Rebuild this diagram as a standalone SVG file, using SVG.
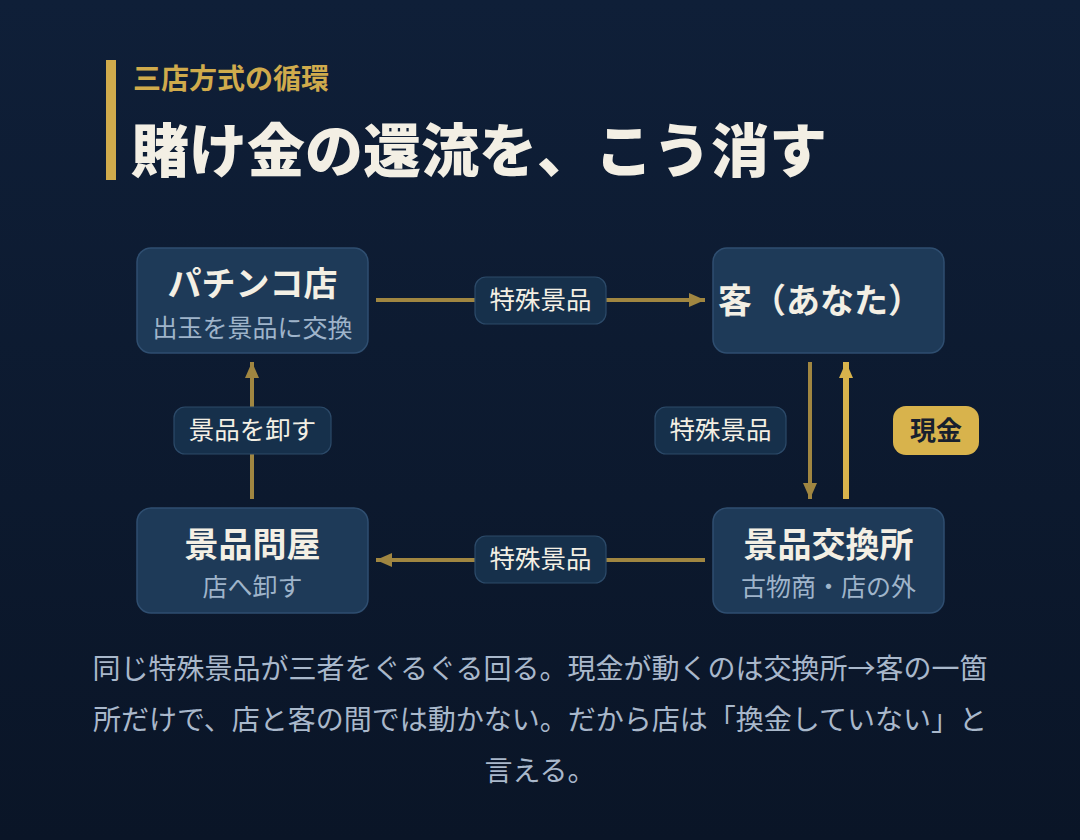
<svg xmlns="http://www.w3.org/2000/svg" width="1080" height="840" viewBox="0 0 1080 840">
  <defs>
    <linearGradient id="bg" x1="0" y1="0" x2="0" y2="1">
      <stop offset="0" stop-color="#0f1f38"/>
      <stop offset="1" stop-color="#0a1527"/>
    </linearGradient>
    <marker id="ah" viewBox="0 0 16 14" refX="16" refY="7" markerWidth="16" markerHeight="14" markerUnits="userSpaceOnUse" orient="auto">
      <path d="M0,0 L16,7 L0,14 Z" fill="#a08641"/>
    </marker>
    <marker id="ahc" viewBox="0 0 16 14" refX="16" refY="7" markerWidth="16" markerHeight="14" markerUnits="userSpaceOnUse" orient="auto">
      <path d="M0,0 L16,7 L0,14 Z" fill="#d8b34c"/>
    </marker>
  </defs>
  <style>
    text { font-family: "Noto Sans CJK JP", "Noto Sans", sans-serif; }
    .node { fill: #1e3a58; stroke: #2f4e70; stroke-width: 1.5; }
    .pill { fill: #16304b; stroke: #2c4a69; stroke-width: 1.2; }
    .goods { stroke: #a08641; stroke-width: 4; fill: none; }
    .cash { stroke: #d8b34c; stroke-width: 6; fill: none; }
    .ntitle { font-size: 34px; font-weight: 700; fill: #f3efe4; text-anchor: middle; }
    .nsub { font-size: 25px; fill: #9fb4ca; text-anchor: middle; }
    .lbl { font-size: 25.5px; fill: #f3efe4; text-anchor: middle; }
    .body { font-size: 28px; fill: #a9b8cb; text-anchor: middle; }
  </style>
  <rect x="0" y="0" width="1080" height="840" fill="url(#bg)"/>

  <g id="header">
    <rect x="106" y="60" width="10" height="120" fill="#d0ab4c"/>
    <text x="133" y="89" font-size="28" font-weight="700" fill="#d0ab4c">三店方式の循環</text>
    <text x="131" y="172" font-size="58" font-weight="900" fill="#f3efe4">賭け金の還流を、こう消す</text>
  </g>

  <g id="connectors">
    <g id="c-shop-customer">
      <line class="goods" x1="376" y1="300" x2="705" y2="300" marker-end="url(#ah)"/>
      <rect class="pill" x="475" y="277" width="131" height="47" rx="11"/>
      <text class="lbl" x="540.5" y="309">特殊景品</text>
    </g>
    <g id="c-customer-exchange">
      <line class="goods" x1="810" y1="362" x2="810" y2="499" marker-end="url(#ah)"/>
      <rect class="pill" x="655" y="407" width="131" height="47" rx="11"/>
      <text class="lbl" x="720.5" y="439">特殊景品</text>
    </g>
    <g id="c-exchange-customer-cash">
      <line class="cash" x1="846" y1="499" x2="846" y2="362" marker-end="url(#ahc)"/>
      <rect x="893" y="406" width="86" height="49" rx="13" fill="#d8b34c"/>
      <text x="936" y="440" font-size="26" font-weight="700" fill="#17202e" text-anchor="middle">現金</text>
    </g>
    <g id="c-exchange-wholesaler">
      <line class="goods" x1="705" y1="560" x2="376" y2="560" marker-end="url(#ah)"/>
      <rect class="pill" x="475" y="536" width="131" height="47" rx="11"/>
      <text class="lbl" x="540.5" y="568">特殊景品</text>
    </g>
    <g id="c-wholesaler-shop">
      <line class="goods" x1="252" y1="499" x2="252" y2="362" marker-end="url(#ah)"/>
      <rect class="pill" x="174" y="407" width="157" height="47" rx="11"/>
      <text class="lbl" x="252.5" y="439">景品を卸す</text>
    </g>
  </g>

  <g id="node-shop">
    <rect class="node" x="137" y="248" width="231" height="105" rx="14"/>
    <text class="ntitle" x="252.5" y="296">パチンコ店</text>
    <text class="nsub" x="252.5" y="337">出玉を景品に交換</text>
  </g>
  <g id="node-customer">
    <rect class="node" x="713" y="248" width="231" height="105" rx="14"/>
    <text class="ntitle" x="820" y="313">客（あなた）</text>
  </g>
  <g id="node-exchange">
    <rect class="node" x="713" y="508" width="231" height="105" rx="14"/>
    <text class="ntitle" x="828.5" y="557">景品交換所</text>
    <text class="nsub" x="828.5" y="596">古物商・店の外</text>
  </g>
  <g id="node-wholesaler">
    <rect class="node" x="137" y="508" width="231" height="105" rx="14"/>
    <text class="ntitle" x="252.5" y="557">景品問屋</text>
    <text class="nsub" x="252.5" y="596">店へ卸す</text>
  </g>

  <g id="caption">
    <text class="body" x="540" y="679">同じ特殊景品が三者をぐるぐる回る。現金が動くのは交換所→客の一箇</text>
    <text class="body" x="540" y="730">所だけで、店と客の間では動かない。だから店は「換金していない」と</text>
    <text class="body" x="540" y="781">言える。</text>
  </g>
</svg>
